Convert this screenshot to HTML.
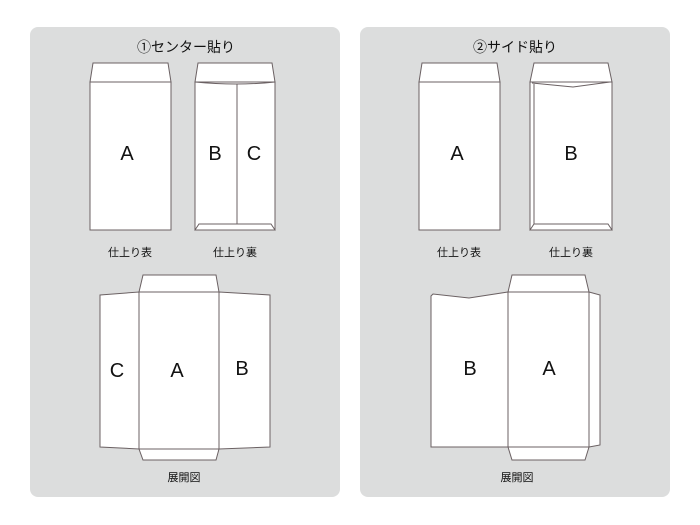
<!DOCTYPE html>
<html><head><meta charset="utf-8"><style>
html,body{margin:0;padding:0;background:#fff;}
svg{display:block}
text{font-family:"Liberation Sans","Noto Sans CJK JP",sans-serif;fill:#111;text-anchor:middle}
.j{font-size:11px}
.t{font-size:14px}
.L{font-size:20px}
</style></head><body>
<svg width="700" height="525" viewBox="0 0 700 525">
<rect x="30" y="27" width="310" height="470" rx="8" fill="#dcdddd"/>
<rect x="360" y="27" width="310" height="470" rx="8" fill="#dcdddd"/>
<g fill="#fff" stroke="#6b6163" stroke-width="1">
<rect x="90" y="82" width="81" height="148"/>
<polygon points="93,63 168,63 171,82 90,82"/>
<rect x="195" y="82" width="80" height="148"/>
<polygon points="198,63 272,63 275,82 195,82"/>
<path d="M195,82 Q237,86 275,82" fill="none"/>
<line x1="237" y1="84" x2="237" y2="224"/>
<polygon points="199,224 271,224 275,230 195,230"/>
<polygon points="100,295 139,292 139,449 100,447"/>
<polygon points="219,292 270,295 270,447 219,449"/>
<polygon points="143,275 216,275 219,292 139,292"/>
<polygon points="139,449 219,449 216,460 143,460"/>
<rect x="139" y="292" width="80" height="157"/>
<rect x="419" y="82" width="81" height="148"/>
<polygon points="422,63 497,63 500,82 419,82"/>
<rect x="530" y="82" width="82" height="148"/>
<polygon points="534,63 608,63 612,82 530,82"/>
<polyline points="532,83 573,87 610,82" fill="none"/>
<line x1="534" y1="84" x2="534" y2="224"/>
<polygon points="534,224 608,224 612,230 530,230"/>
<polygon points="431,296 433,294 469,298 508,292 508,447 431,447"/>
<polygon points="589,292 600,295 600,445 589,447"/>
<polygon points="512,275 585,275 589,292 508,292"/>
<polygon points="508,447 589,447 585,460 512,460"/>
<rect x="508" y="292" width="81" height="155"/>
</g>
<text class="t" x="186" y="52">①センター貼り</text>
<text class="t" x="515" y="52">②サイド貼り</text>
<text class="L" x="127" y="160">A</text>
<text class="L" x="215" y="160">B</text>
<text class="L" x="254" y="160">C</text>
<text class="j" x="130" y="256">仕上り表</text>
<text class="j" x="235" y="256">仕上り裏</text>
<text class="L" x="457" y="160">A</text>
<text class="L" x="571" y="160">B</text>
<text class="j" x="459" y="256">仕上り表</text>
<text class="j" x="571" y="256">仕上り裏</text>
<text class="L" x="117" y="377">C</text>
<text class="L" x="177" y="377">A</text>
<text class="L" x="242" y="375">B</text>
<text class="j" x="184" y="481">展開図</text>
<text class="L" x="470" y="375">B</text>
<text class="L" x="549" y="375">A</text>
<text class="j" x="517" y="481">展開図</text>
</svg>
</body></html>
